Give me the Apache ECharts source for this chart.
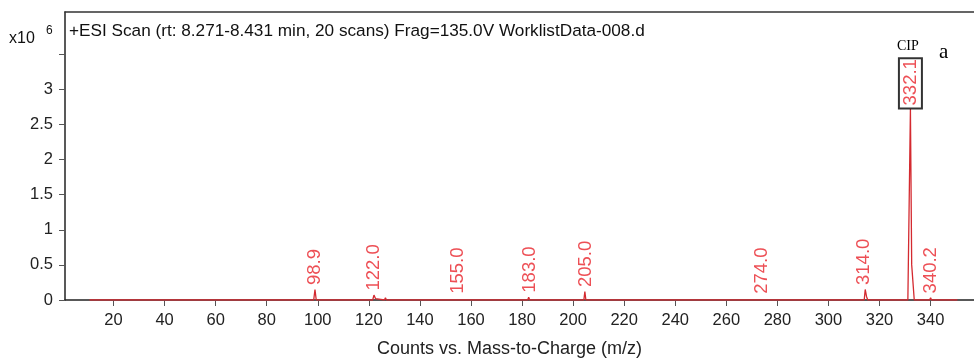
<!DOCTYPE html>
<html>
<head>
<meta charset="utf-8">
<script src="https://cdn.jsdelivr.net/npm/echarts@6/dist/echarts.min.js"></script>
<style>
html,body{margin:0;padding:0;background:#fff;}
#chart{width:974px;height:359px;}
</style>
</head>
<body>
<div id="chart"></div>
<script>
// Profile spectrum (m/z, counts x10^6)
const profileMz = [10.6, 98.4, 98.9, 99.4, 104.6, 105.0, 105.4, 107.1, 107.5, 107.9, 114.1, 114.5, 114.9,
  121.5, 122.0, 122.6, 123.0, 126.1, 126.5, 126.9, 154.2, 154.6, 155.0, 157.4, 157.8, 158.2,
  182.2, 182.6, 183.0, 204.2, 204.6, 205.0, 230.6, 231.0, 231.4, 273.4, 273.8, 274.2,
  287.6, 288.0, 288.4, 305.6, 306.0, 306.4, 314.0, 314.4, 314.9, 315.4, 331.1, 332.1, 332.6, 332.9, 333.6,
  339.6, 340.0, 340.4, 349.1, 349.5, 349.9, 350.5];
const profileIntensity = [0, 0, 0.15, 0, 0, 0.02, 0, 0, 0.02, 0, 0, 0.025, 0,
  0, 0.07, 0.02, 0, 0, 0.03, 0, 0, 0.025, 0, 0, 0.025, 0,
  0, 0.04, 0, 0, 0.12, 0, 0, 0.012, 0, 0, 0.025, 0,
  0, 0.02, 0, 0, 0.02, 0, 0, 0.15, 0.05, 0, 0, 2.72, 0.5, 0.5, 0,
  0, 0.03, 0, 0, 0.025, 0, 0];

// Labelled peaks
const peakMz = [98.9, 122.0, 155.0, 183.0, 205.0, 274.0, 314.0, 332.1, 340.2];
const peakHeight = [0.15, 0.07, 0.025, 0.04, 0.12, 0.025, 0.15, 2.72, 0.03];
const boxedPeak = 332.1;

// Axis ticks
const xTickValues = [20, 40, 60, 80, 100, 120, 140, 160, 180, 200, 220, 240, 260, 280, 300, 320, 340];
const yTickValues = [0, 0.5, 1, 1.5, 2, 2.5, 3, 3.5];
const yLabelValues = [0, 0.5, 1, 1.5, 2, 2.5, 3];

const titleText = '+ESI Scan (rt: 8.271-8.431 min, 20 scans) Frag=135.0V WorklistData-008.d';
const xAxisName = 'Counts vs. Mass-to-Charge (m/z)';

const RED = '#e8232b';
const profileData = profileMz.map((m, i) => [m, profileIntensity[i]]);
const peakData = peakMz.map((m, i) => {
  const item = { value: [m, peakHeight[i]] };
  if (m === boxedPeak) {
    item.label = { borderColor: '#000', borderWidth: 2, padding: [3, 1, 1, 3], distance: 0 };
  }
  return item;
});

const chart = echarts.init(document.getElementById('chart'), null, { renderer: 'canvas' });
const font = 'Liberation Sans, Arial, sans-serif';
const serif = 'Liberation Serif, Times New Roman, serif';
chart.setOption({
  animation: false,
  backgroundColor: '#fff',
  textStyle: { fontFamily: font },
  grid: { left: 65, top: 12, right: 0, bottom: 59, containLabel: false, outerBoundsMode: 'none' },
  graphic: [
    { type: 'text', left: 69, top: 23, style: { text: titleText, font: '17.2px ' + font, fill: '#111' } },
    { type: 'text', left: 9, top: 31, style: { text: 'x10', font: '16px ' + font, fill: '#111' } },
    { type: 'text', left: 46, top: 25, style: { text: '6', font: '12px ' + font, fill: '#111' } },
    { type: 'text', left: 897, top: 39, style: { text: 'CIP', font: '14px ' + serif, fill: '#000' } },
    { type: 'text', left: 939, top: 42, style: { text: 'a', font: '21px ' + serif, fill: '#000' } }
  ],
  xAxis: [{
    type: 'value', min: 1, max: 357, position: 'bottom',
    axisLine: { show: true, onZero: false, lineStyle: { color: '#222', width: 1.5 } },
    axisTick: { show: true, length: 6, customValues: xTickValues, lineStyle: { color: '#555' } },
    axisLabel: { customValues: xTickValues, fontSize: 16.5, color: '#222', margin: 12, fontFamily: font },
    splitLine: { show: false },
    name: xAxisName, nameLocation: 'middle', nameGap: 40,
    nameTextStyle: { fontSize: 18, color: '#222', fontFamily: font, padding: [0, 20, 0, 0] }
  }, {
    type: 'value', min: 1, max: 357, position: 'top',
    axisLine: { show: true, onZero: false, lineStyle: { color: '#333', width: 1.5 } },
    axisTick: { show: false }, axisLabel: { show: false }, splitLine: { show: false }
  }],
  yAxis: {
    type: 'value', min: 0, max: 4.1,
    axisLine: { show: true, onZero: false, lineStyle: { color: '#222', width: 1.5 } },
    axisTick: { show: true, length: 6, customValues: yTickValues, lineStyle: { color: '#555' } },
    axisLabel: { customValues: yLabelValues, fontSize: 16.5, color: '#222', margin: 12, fontFamily: font },
    splitLine: { show: false }
  },
  series: [{
    type: 'line', xAxisIndex: 0, data: profileData, showSymbol: false, symbol: 'none',
    lineStyle: { color: '#d42a30', width: 1.3 }, z: 3
  }, {
    type: 'scatter', xAxisIndex: 0, data: peakData, symbolSize: 1,
    itemStyle: { color: 'rgba(0,0,0,0)' },
    label: {
      show: true, position: 'top', distance: 4, rotate: 90, align: 'left', verticalAlign: 'middle',
      color: RED, fontSize: 18.5, fontFamily: font,
      formatter: p => p.value[0].toFixed(1)
    },
    z: 4
  }]
});
</script>
</body>
</html>
